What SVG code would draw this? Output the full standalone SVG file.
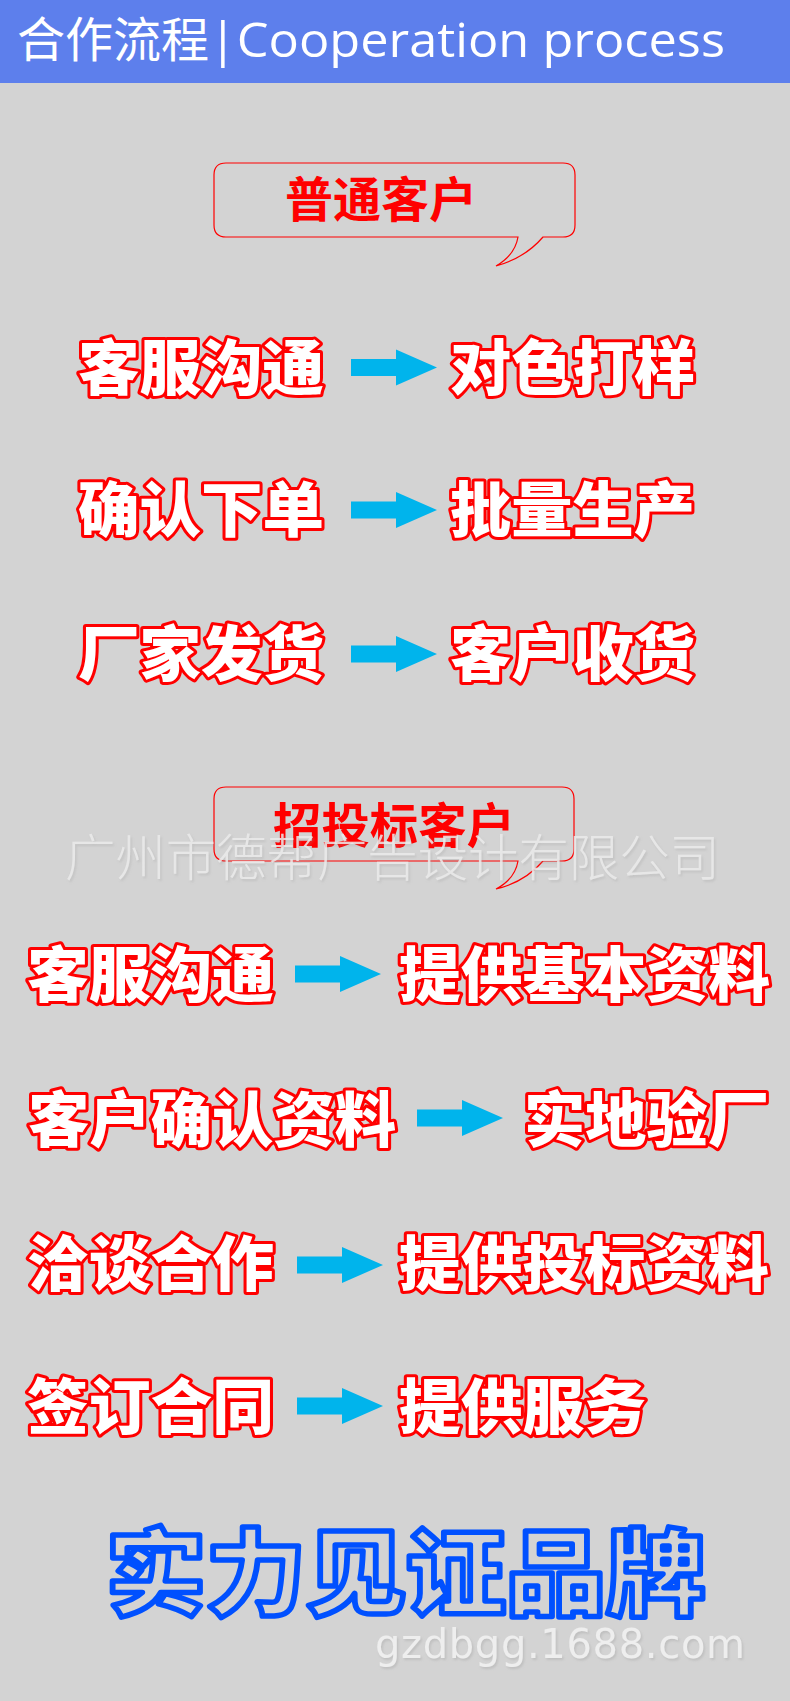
<svg xmlns="http://www.w3.org/2000/svg" width="790" height="1701" viewBox="0 0 790 1701">
<style>
.hd{font-family:"Open Sans","Noto Sans CJK SC",sans-serif;font-size:48px;fill:#ffffff}
.bub{fill:none;stroke:#ff0000;stroke-width:1.2}
.bt{font-family:"Noto Sans CJK SC",sans-serif;font-weight:700;font-size:48px;fill:#ff0000}
.st{font-family:"Noto Sans CJK SC",sans-serif;font-weight:900;font-size:60px;fill:#ffffff;stroke:#ff0000;stroke-width:6;stroke-linejoin:round;paint-order:stroke}
.arr{fill:#00b4ec}
.wm{font-family:"Noto Sans CJK SC",sans-serif;font-weight:300;font-size:50px;fill:#ececec;opacity:0.85}
.brand{font-family:"Noto Sans CJK SC",sans-serif;font-weight:900;font-size:94px;fill:none;stroke:#0050ff;stroke-width:5.5;stroke-linejoin:round}
.url{font-family:"DejaVu Sans","Liberation Sans",sans-serif;font-size:40px;fill:#eeeeee}
</style>
<defs>
<path id="arrow" class="arr" d="M0,-8.5 H45 V-18 L86,0 L45,18 V8.5 H0 Z"/>
<filter id="sh" x="-5%" y="-20%" width="110%" height="150%">
<feDropShadow dx="1.5" dy="2" stdDeviation="1" flood-color="#9a9a9a" flood-opacity="0.35"/>
</filter>
</defs>
<rect x="0" y="0" width="790" height="1701" fill="#d3d3d3"/>
<g id="header">
<rect x="0" y="0" width="790" height="83" fill="#5d7fec"/>
<text class="hd" y="57"><tspan x="17">合作流程</tspan><tspan x="209" textLength="516" lengthAdjust="spacingAndGlyphs">|Cooperation process</tspan></text>
</g>
<g id="bubble-normal">
<path class="bub" d="M226,163 H563 Q575,163 575,175 V225 Q575,237 563,237 H543 Q525,258 496,266 Q515,255 518,237 H226 Q214,237 214,225 V175 Q214,163 226,163 Z"/>
<text class="bt" x="285" y="217" textLength="192" lengthAdjust="spacingAndGlyphs">普通客户</text>
</g>
<g id="n1a"><text class="st" x="78" y="390" textLength="246" lengthAdjust="spacingAndGlyphs">客服沟通</text></g>
<g id="n1b"><text class="st" x="450" y="390" textLength="245" lengthAdjust="spacingAndGlyphs">对色打样</text></g>
<g id="n2a"><text class="st" x="78" y="532" textLength="246" lengthAdjust="spacingAndGlyphs">确认下单</text></g>
<g id="n2b"><text class="st" x="450" y="532" textLength="245" lengthAdjust="spacingAndGlyphs">批量生产</text></g>
<g id="n3a"><text class="st" x="78" y="676" textLength="246" lengthAdjust="spacingAndGlyphs">厂家发货</text></g>
<g id="n3b"><text class="st" x="450" y="676" textLength="245" lengthAdjust="spacingAndGlyphs">客户收货</text></g>
<g id="bubble-bid">
<path class="bub" d="M226,787 H562 Q574,787 574,799 V849 Q574,861 562,861 H543 Q525,882 496,889 Q515,879 518,861 H226 Q214,861 214,849 V799 Q214,787 226,787 Z"/>
<text class="bt" x="273" y="843" textLength="242" lengthAdjust="spacingAndGlyphs">招投标客户</text>
</g>
<g id="m1a"><text class="st" x="27" y="997" textLength="247" lengthAdjust="spacingAndGlyphs">客服沟通</text></g>
<g id="m1b"><text class="st" x="399" y="997" textLength="371" lengthAdjust="spacingAndGlyphs">提供基本资料</text></g>
<g id="m2a"><text class="st" x="28" y="1142" textLength="368" lengthAdjust="spacingAndGlyphs">客户确认资料</text></g>
<g id="m2b"><text class="st" x="524" y="1142" textLength="245" lengthAdjust="spacingAndGlyphs">实地验厂</text></g>
<g id="m3a"><text class="st" x="27" y="1286" textLength="247" lengthAdjust="spacingAndGlyphs">洽谈合作</text></g>
<g id="m3b"><text class="st" x="399" y="1286" textLength="370" lengthAdjust="spacingAndGlyphs">提供投标资料</text></g>
<g id="m4a"><text class="st" x="27" y="1429" textLength="247" lengthAdjust="spacingAndGlyphs">签订合同</text></g>
<g id="m4b"><text class="st" x="399" y="1429" textLength="247" lengthAdjust="spacingAndGlyphs">提供服务</text></g>
<g id="connectors">
<use href="#arrow" x="351" y="367.5"/>
<use href="#arrow" x="351" y="510"/>
<use href="#arrow" x="351" y="654"/>
<use href="#arrow" x="295" y="974"/>
<use href="#arrow" x="417" y="1118"/>
<use href="#arrow" x="297" y="1265"/>
<use href="#arrow" x="297" y="1406"/>
</g>
<g id="watermark" filter="url(#sh)">
<text class="wm" x="65" y="876" textLength="655" lengthAdjust="spacingAndGlyphs">广州市德帮广告设计有限公司</text>
</g>
<g id="brand">
<text class="brand" x="106" y="1608" textLength="600" lengthAdjust="spacingAndGlyphs">实力见证品牌</text>
</g>
<g id="url" filter="url(#sh)">
<text class="url" x="375" y="1658" textLength="370" lengthAdjust="spacing">gzdbgg.1688.com</text>
</g>
</svg>
